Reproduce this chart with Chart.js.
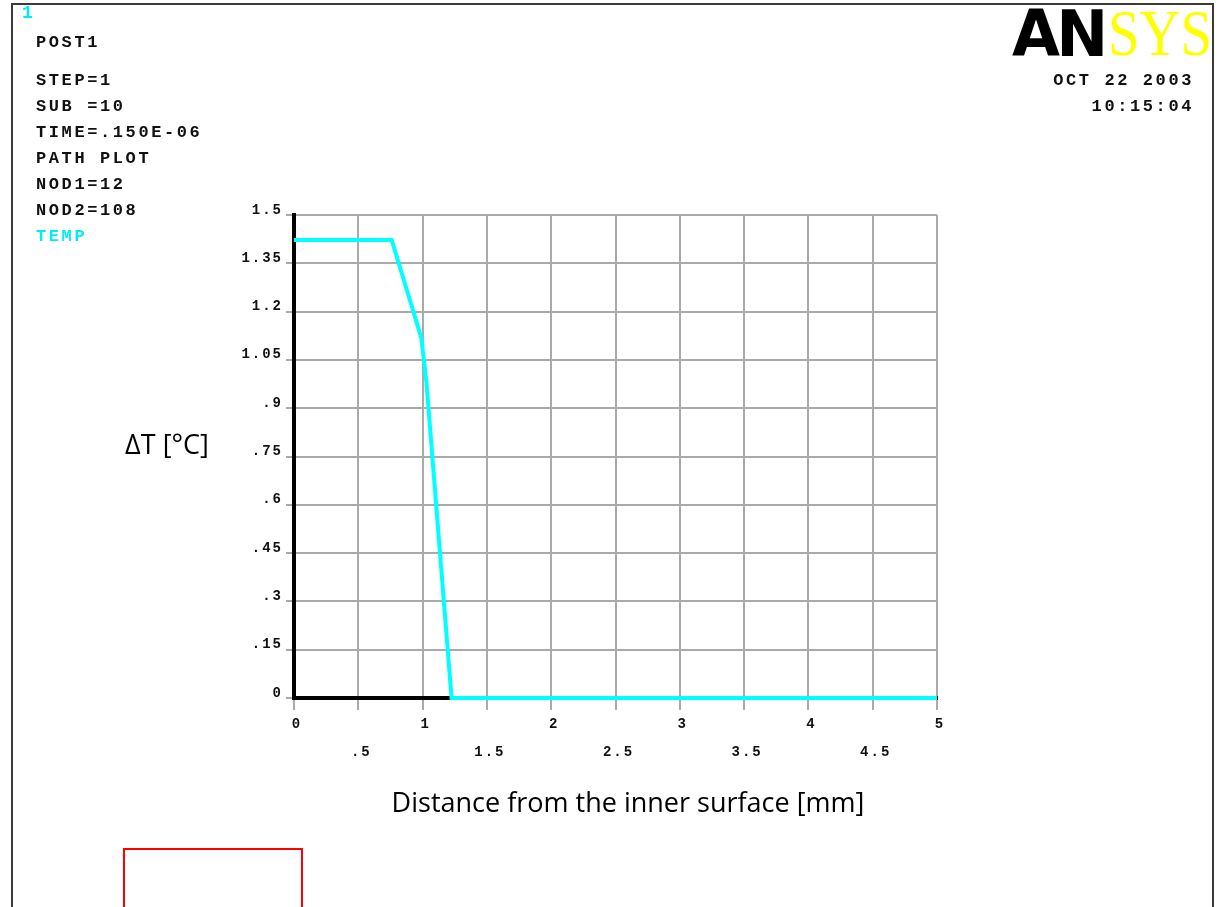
<!DOCTYPE html>
<html>
<head>
<meta charset="utf-8">
<title>POST1 path plot</title>
<script src="https://cdn.jsdelivr.net/npm/chart.js@4.4.0/dist/chart.umd.min.js"></script>
<style>
  html, body { margin: 0; padding: 0; background: #fff; }
  body { width: 1220px; height: 907px; overflow: hidden; position: relative; }
  #frame {
    position: absolute; left: 11px; top: 3px; width: 1199px; height: 940px;
    border: 2px solid #3a3a3a; border-bottom: none;
  }
  #pathPlot { position: absolute; left: 0; top: 0; }
  .ann {
    position: absolute; font-family: "Liberation Mono", monospace; font-weight: bold;
    font-size: 17px; line-height: 20px; letter-spacing: 2.6px; color: #111; white-space: pre;
  }
  .cyan { color: #00eeee; }
  .right { text-align: right; }
  .logo { position: absolute; white-space: pre; line-height: 1; }
  #logoAN { left: 1012px; top: 2px; font-family: "DejaVu Sans", sans-serif; font-weight: bold;
    font-size: 64px; color: #000; letter-spacing: -4px; transform: scaleX(0.97); transform-origin: left top; }
  #logoSYS { left: 1108px; top: 0px; font-family: "Liberation Serif", serif;
    font-size: 66px; color: #ffff00; transform: scaleX(0.86); transform-origin: left top; }
  .axisTitle { position: absolute; font-family: "Comic Sans MS", "Open Sans", sans-serif;
    font-size: 27px; line-height: 30px; color: #000; white-space: pre; transform: translateX(-50%); }
  #redBox { position: absolute; left: 123px; top: 848px; width: 176px; height: 100px;
    border: 2px solid #ff0000; }
</style>
</head>
<body>
<div id="frame"></div>
<canvas id="pathPlot" width="1220" height="907"></canvas>

<div class="ann cyan" style="left:22px; top:3px; font-size:18px;">1</div>
<div class="ann" style="left:36px; top:33px;">POST1</div>
<div class="ann" style="left:36px; top:71px;">STEP=1</div>
<div class="ann" style="left:36px; top:97px;">SUB =10</div>
<div class="ann" style="left:36px; top:123px;">TIME=.150E-06</div>
<div class="ann" style="left:36px; top:149px;">PATH PLOT</div>
<div class="ann" style="left:36px; top:175px;">NOD1=12</div>
<div class="ann" style="left:36px; top:201px;">NOD2=108</div>
<div class="ann cyan" style="left:36px; top:227px;">TEMP</div>

<div class="logo" id="logoAN">AN</div>
<div class="logo" id="logoSYS">SYS</div>
<div class="ann right" style="right:26px; top:71px;">OCT 22 2003</div>
<div class="ann right" style="right:26px; top:97px;">10:15:04</div>

<div class="axisTitle" style="left:167px; top:429px;">ΔT [°C]</div>
<div class="axisTitle" style="left:628px; top:787px;">Distance from the inner surface [mm]</div>

<div id="redBox"></div>

<script>
// temperature rise along the path (distance in mm, ΔT in °C)
const pathDistance = [0, 0.76, 0.99, 1.03, 1.225, 5];
const tempRise = [1.422, 1.422, 1.118, 0.98, 0, 0];

const xTickValues = [0, 0.5, 1, 1.5, 2, 2.5, 3, 3.5, 4, 4.5, 5];
const xTickLabels = ['0', '.5', '1', '1.5', '2', '2.5', '3', '3.5', '4', '4.5', '5'];
const yTickValues = [0, 0.15, 0.3, 0.45, 0.6, 0.75, 0.9, 1.05, 1.2, 1.35, 1.5];
const yTickLabels = ['0', '.15', '.3', '.45', '.6', '.75', '.9', '1.05', '1.2', '1.35', '1.5'];

const points = pathDistance.map((d, i) => ({ x: d, y: tempRise[i] }));

// ANSYS style tick labels are widely spaced
const spacedTicks = {
  id: 'spacedTicks',
  beforeDraw(chart) { chart.ctx.letterSpacing = '2px'; }
};

const tickFont = { family: 'Liberation Mono', weight: 'bold', size: 14 };

new Chart(document.getElementById('pathPlot').getContext('2d'), {
  type: 'line',
  data: {
    datasets: [{
      label: 'TEMP',
      data: points,
      borderColor: '#00ffff',
      borderWidth: 4,
      pointRadius: 0,
      tension: 0,
      fill: false,
      clip: false,
    }],
  },
  options: {
    responsive: false,
    animation: false,
    devicePixelRatio: 1,
    layout: { padding: { top: 215, right: 283, bottom: 0, left: 0 } },
    plugins: { legend: { display: false }, tooltip: { enabled: false } },
    scales: {
      x: {
        type: 'linear',
        min: 0,
        max: 5,
        afterBuildTicks: (scale) => { scale.ticks = xTickValues.map(v => ({ value: v })); },
        afterFit: (scale) => { scale.height = 209; scale.paddingLeft = 0; scale.paddingRight = 0; },
        grid: { color: '#aaaaaa', lineWidth: 2, tickLength: 12 },
        border: { color: '#000', width: 4 },
        ticks: {
          autoSkip: false,
          maxRotation: 0,
          padding: 0,
          labelOffset: 3,
          color: '#111',
          font: { ...tickFont, lineHeight: 2.0 },
          // half values sit on a second row
          callback: (value, index) => index % 2 ? ['', xTickLabels[index]] : xTickLabels[index],
        },
      },
      y: {
        min: 0,
        max: 1.5,
        afterBuildTicks: (scale) => { scale.ticks = yTickValues.map(v => ({ value: v })); },
        afterFit: (scale) => { scale.width = 294; scale.paddingTop = 0; scale.paddingBottom = 0; },
        grid: { color: '#aaaaaa', lineWidth: 2, tickLength: 8 },
        border: { color: '#000', width: 4 },
        ticks: {
          autoSkip: false,
          padding: 3,
          labelOffset: -5,
          color: '#111',
          font: tickFont,
          callback: (value, index) => yTickLabels[index],
        },
      },
    },
  },
  plugins: [spacedTicks],
});
</script>
</body>
</html>
